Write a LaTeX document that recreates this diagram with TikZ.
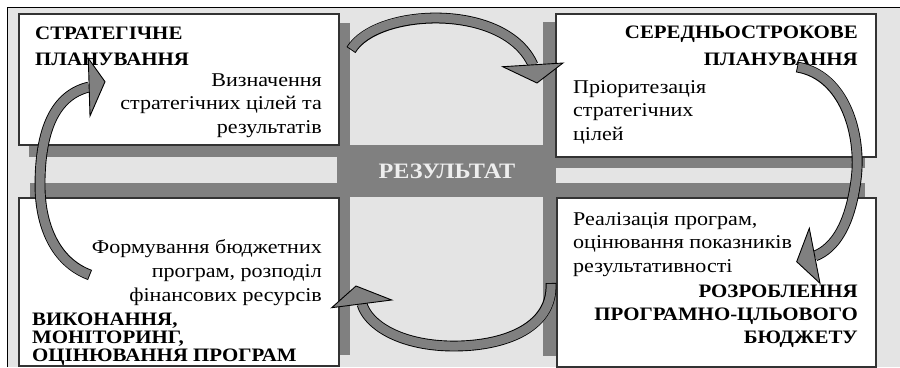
\documentclass[tikz,border=0pt]{standalone}
\usepackage{fontspec}
\setmainfont{Liberation Serif}
\newfontfamily\rfont[FakeStretch=1.13]{Liberation Serif}
\newfontfamily\bfont[FakeStretch=1.1]{Liberation Serif}
\definecolor{bgc}{HTML}{E4E4E4}
\definecolor{shd}{HTML}{808080}
\definecolor{bord}{HTML}{333333}
\definecolor{arw}{HTML}{808080}
\definecolor{restxt}{HTML}{EEEEEE}
\begin{document}
\begin{tikzpicture}[x=1pt,y=-1pt,
  boxst/.style={draw=bord, line width=1.5pt, fill=white, inner sep=0pt, anchor=north west},
  shadowst/.style={fill=shd},
  bt/.style={font=\bfont\fontsize{19}{19}\selectfont\bfseries, inner sep=0pt},
  rt/.style={font=\rfont\fontsize{19.5}{19.5}\selectfont, inner sep=0pt},
  arrowouter/.style={draw=black, line width=10.8pt},
  arrowinner/.style={draw=arw, line width=9pt, shorten <=0.9pt},
  arrowhead/.style={draw=black, line width=0.9pt, fill=arw, line join=miter}]
\useasboundingbox (0,0) rectangle (900,367);
\fill[bgc] (7,7) rectangle (900,367);
\draw[line width=1pt] (7,367) -- (7,7) -- (900,7);
% shadows
\fill[shadowst] (29,23) rectangle (350,157);
\fill[shadowst] (543,22) rectangle (865,168);
\fill[shadowst] (30,183) rectangle (350,355);
\fill[shadowst] (543,183) rectangle (865,356);
% centre
\node[fill=shd, minimum width=219pt, minimum height=52pt, inner sep=0pt, anchor=north west] (res) at (337,145) {};
\node[font=\bfont\fontsize{22}{22}\selectfont\bfseries, text=restxt, inner sep=0pt, anchor=base] (restext) at (447,178) {РЕЗУЛЬТАТ};
% boxes
\node[boxst, minimum width=320pt, minimum height=131pt] (tl) at (18,13) {};
\node[boxst, minimum width=320pt, minimum height=143pt] (tr) at (555,13) {};
\node[boxst, minimum width=320pt, minimum height=168pt] (bl) at (18,197) {};
\node[boxst, minimum width=319pt, minimum height=169pt] (br) at (556,197) {};
% texts TL
\node[bt, anchor=base west] (tl1) at (35,39) {СТРАТЕГІЧНЕ};
\node[bt, anchor=base west] (tl2) at (35,65) {ПЛАНУВАННЯ};
\node[rt, anchor=base east] (tl3) at (322,86) {Визначення};
\node[rt, anchor=base east] (tl4) at (322,109.5) {стратегічних цілей та};
\node[rt, anchor=base east] (tl5) at (322,133) {результатів};
% texts TR
\node[bt, anchor=base east] (tr1) at (858,38.5) {СЕРЕДНЬОСТРОКОВЕ};
\node[bt, anchor=base east] (tr2) at (858,65) {ПЛАНУВАННЯ};
\node[rt, anchor=base west] (tr3) at (573,93) {Пріоритезація};
\node[rt, anchor=base west] (tr4) at (573,116.5) {стратегічних};
\node[rt, anchor=base west] (tr5) at (573,140) {цілей};
% texts BL
\node[rt, anchor=base east] (bl1) at (322,253) {Формування бюджетних};
\node[rt, anchor=base east] (bl2) at (322,277) {програм, розподіл};
\node[rt, anchor=base east] (bl3) at (322,301) {фінансових ресурсів};
\node[bt, anchor=base west] (bl4) at (32,325) {ВИКОНАННЯ,};
\node[bt, anchor=base west] (bl5) at (32,343) {МОНІТОРИНГ,};
\node[bt, anchor=base west] (bl6) at (32,361) {ОЦІНЮВАННЯ ПРОГРАМ};
% texts BR
\node[rt, anchor=base west] (br1) at (573,225) {Реалізація програм,};
\node[rt, anchor=base west] (br2) at (573,248.5) {оцінювання показників};
\node[rt, anchor=base west] (br3) at (573,272) {результативності};
\node[bt, anchor=base east] (br4) at (858,297) {РОЗРОБЛЕННЯ};
\node[bt, anchor=base east] (br5) at (858,320) {ПРОГРАМНО-ЦЛЬОВОГО};
\node[bt, anchor=base east] (br6) at (858,343) {БЮДЖЕТУ};
% arrow 1 (top)
\coordinate (a1s) at (351,50);
\coordinate (a1e) at (533,65);
\draw[arrowouter] (a1s) .. controls (376,8) and (505,2) .. (a1e);
\draw[arrowinner] (a1s) .. controls (376,8) and (505,2) .. (a1e);
\draw[arrowhead] (502.7,66.7) -- (537,83) -- (563,63) -- cycle;
% arrow 2 (right)
\coordinate (a2s) at (797,67);
\coordinate (a2m) at (856,180);
\coordinate (a2e) at (815,256);
\draw[arrowouter] (a2s) .. controls (845,75) and (862,135) .. (a2m) .. controls (850,225) and (835,248) .. (a2e);
\draw[arrowinner] (a2s) .. controls (845,75) and (862,135) .. (a2m) .. controls (850,225) and (835,248) .. (a2e);
\draw[arrowhead] (809.3,228.3) -- (796.7,261.7) -- (820,283.3) -- cycle;
% arrow 3 (bottom)
\coordinate (a3s) at (551,283);
\coordinate (a3m) at (450,346);
\coordinate (a3e) at (362,304);
\draw[arrowouter] (a3s) .. controls (553,330) and (500,347) .. (a3m) .. controls (400,345) and (368,325) .. (a3e);
\draw[arrowinner] (a3s) .. controls (553,330) and (500,347) .. (a3m) .. controls (400,345) and (368,325) .. (a3e);
\draw[arrowhead] (331.7,307.7) -- (356,286) -- (391.7,300) -- cycle;
% arrow 4 (left)
\coordinate (a4s) at (90,275);
\coordinate (a4m) at (40,185);
\coordinate (a4e) at (89,87);
\draw[arrowouter] (a4s) .. controls (55,262) and (40,225) .. (a4m) .. controls (40,130) and (55,95) .. (a4e);
\draw[arrowinner] (a4s) .. controls (55,262) and (40,225) .. (a4m) .. controls (40,130) and (55,95) .. (a4e);
\draw[arrowhead] (88.3,58.3) -- (105,81.7) -- (90,116) -- cycle;
\end{tikzpicture}
\end{document}
